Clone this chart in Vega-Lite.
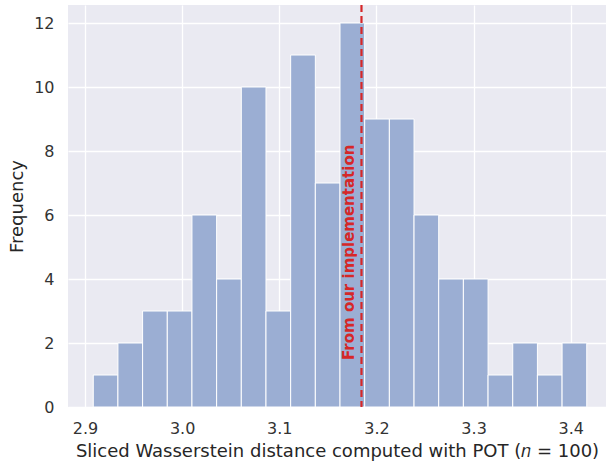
{
  "$schema": "https://vega.github.io/schema/vega-lite/v6.json",
  "width": 538,
  "height": 402,
  "autosize": "none",
  "padding": {"left": 68, "top": 5, "right": 0, "bottom": 56},
  "background": "white",
  "config": {
    "font": "DejaVu Sans",
    "view": {"fill": "#EAEAF2", "stroke": null},
    "axis": {
      "domain": false,
      "ticks": false,
      "tickSize": 0,
      "grid": true,
      "gridColor": "white",
      "gridWidth": 1.3,
      "labelFont": "DejaVu Sans",
      "titleFont": "DejaVu Sans",
      "labelFontSize": 16,
      "titleFontSize": 18,
      "labelColor": "#333333",
      "titleColor": "#262626",
      "titleFontWeight": "normal"
    }
  },
  "datasets": {
    "bins": [
      {"start": 2.9085, "end": 2.9339, "count": 1},
      {"start": 2.9339, "end": 2.9593, "count": 2},
      {"start": 2.9593, "end": 2.9847, "count": 3},
      {"start": 2.9847, "end": 3.0101, "count": 3},
      {"start": 3.0101, "end": 3.0355, "count": 6},
      {"start": 3.0355, "end": 3.0609, "count": 4},
      {"start": 3.0609, "end": 3.0863, "count": 10},
      {"start": 3.0863, "end": 3.1117, "count": 3},
      {"start": 3.1117, "end": 3.1371, "count": 11},
      {"start": 3.1371, "end": 3.1625, "count": 7},
      {"start": 3.1625, "end": 3.1879, "count": 12},
      {"start": 3.1879, "end": 3.2133, "count": 9},
      {"start": 3.2133, "end": 3.2387, "count": 9},
      {"start": 3.2387, "end": 3.2641, "count": 6},
      {"start": 3.2641, "end": 3.2895, "count": 4},
      {"start": 3.2895, "end": 3.3149, "count": 4},
      {"start": 3.3149, "end": 3.3403, "count": 1},
      {"start": 3.3403, "end": 3.3657, "count": 2},
      {"start": 3.3657, "end": 3.3911, "count": 1},
      {"start": 3.3911, "end": 3.4165, "count": 2}
    ],
    "ref": [
      {"value": 3.1846, "label": "From our implementation", "ypos": 1.47}
    ]
  },
  "layer": [
    {
      "data": {"name": "bins"},
      "mark": {"type": "rect", "fill": "#9BAED3", "stroke": "white", "strokeWidth": 1},
      "encoding": {
        "x": {
          "field": "start", "type": "quantitative",
          "scale": {"domain": [2.8825, 3.4363], "nice": false, "zero": false},
          "axis": {"values": [2.9, 3.0, 3.1, 3.2, 3.3, 3.4], "format": ".1f", "labelPadding": 13, "titlePadding": 6,
                   "title": "Sliced Wasserstein distance computed with POT (𝑛 = 100)"}
        },
        "x2": {"field": "end"},
        "y": {
          "field": "count", "type": "quantitative",
          "scale": {"domain": [0, 12.5625], "nice": false},
          "axis": {"values": [0, 2, 4, 6, 8, 10, 12], "labelPadding": 14, "titlePadding": 7, "title": "Frequency"}
        },
        "y2": {"datum": 0}
      }
    },
    {
      "data": {"name": "ref"},
      "mark": {"type": "rule", "color": "#D62728", "strokeWidth": 2.2, "strokeDash": [7, 4]},
      "encoding": {
        "x": {"field": "value", "type": "quantitative"}
      }
    },
    {
      "data": {"name": "ref"},
      "mark": {"type": "text", "color": "#D62728", "font": "DejaVu Sans", "fontWeight": "bold", "fontSize": 15, "angle": 270, "align": "left", "baseline": "bottom", "dy": -4},
      "encoding": {
        "x": {"field": "value", "type": "quantitative"},
        "y": {"field": "ypos", "type": "quantitative"},
        "text": {"field": "label"}
      }
    }
  ]
}
